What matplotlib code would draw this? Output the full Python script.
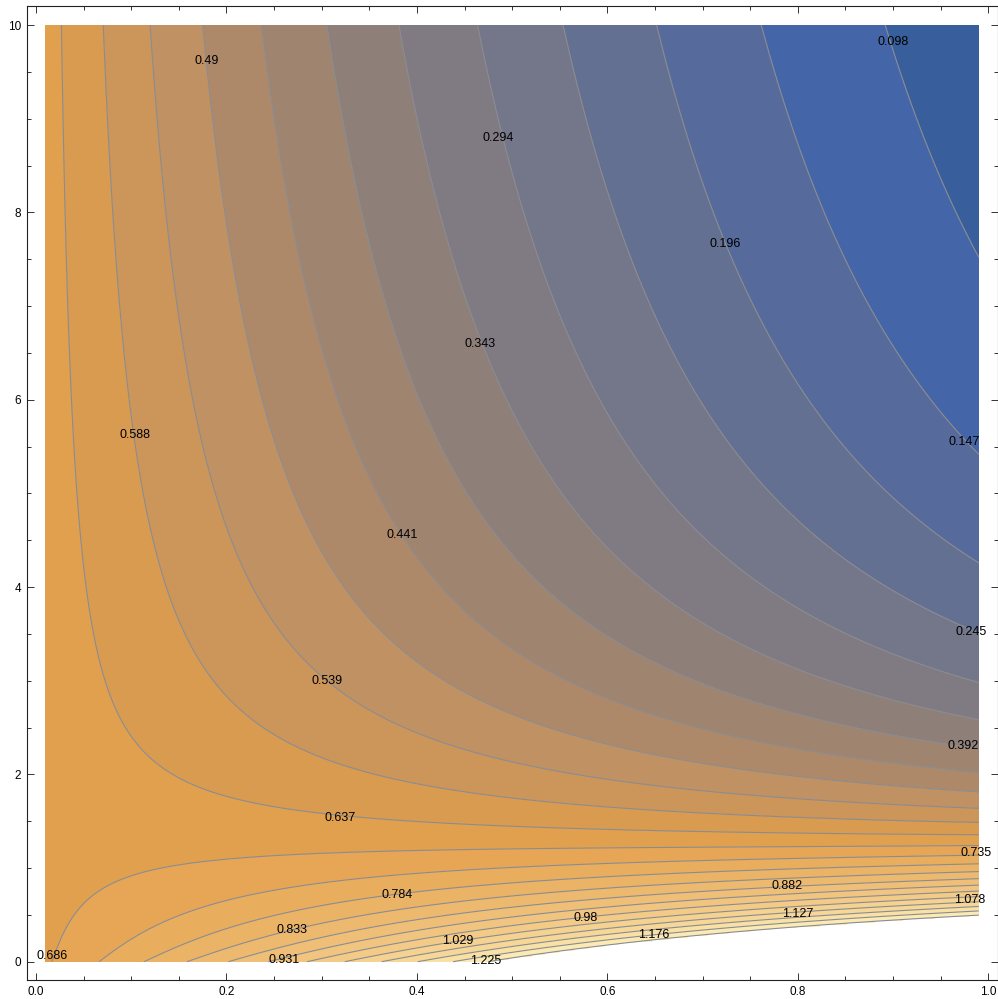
import numpy as np
import matplotlib
matplotlib.use("Agg")
import matplotlib.pyplot as plt
from matplotlib.colors import LinearSegmentedColormap, Normalize

plt.rcParams['font.family'] = ['Liberation Sans', 'DejaVu Sans']

# contour levels: multiples of 0.049
levels = np.round(0.049 * np.arange(2, 26), 3)
cap = 1.236  # values above this are left blank

# where the contours cross the top edge (y = 10)
top_levels = [0.637, 0.588, 0.539, 0.49, 0.441, 0.392, 0.343, 0.294, 0.245, 0.196, 0.147, 0.098]
top_x = [0.026, 0.072, 0.123, 0.177, 0.237, 0.303, 0.377, 0.459, 0.550, 0.651, 0.765, 0.896]

# where the contours cross the right edge (x = 0.99)
right_levels = [0.098, 0.147, 0.196, 0.245, 0.294, 0.343, 0.392, 0.441, 0.49, 0.539, 0.588, 0.637,
                0.686, 0.735, 0.784, 0.833, 0.882, 0.931, 0.98, 1.029, 1.078, 1.127, 1.176]
right_y = [7.42, 5.37, 4.25, 3.53, 2.99, 2.59, 2.30, 2.02, 1.815, 1.64, 1.485, 1.36,
           1.237, 1.117, 1.035, 0.957, 0.886, 0.822, 0.758, 0.697, 0.633, 0.573, 0.520]

# where the contours cross the bottom edge (y = 0)
bottom_levels = [0.686, 0.735, 0.784, 0.833, 0.882, 0.931, 1.225]
bottom_x = [0.025, 0.069, 0.116, 0.163, 0.207, 0.25, 0.47]

# points along the interior of the contour lines
trace_levels = ([0.637] * 14 + [0.588] * 9 + [0.539] * 5 + [0.49] * 4 + [0.441] * 2 + [0.392]
                + [0.686] * 11 + [0.735] * 8 + [0.784] * 7 + [0.833] * 5)
trace_x = [0.034, 0.037, 0.046, 0.064, 0.085, 0.113, 0.134, 0.158, 0.186, 0.225, 0.277, 0.319, 0.364, 0.455,
           0.092, 0.102, 0.116, 0.137, 0.174, 0.301, 0.347, 0.399, 0.455,
           0.155, 0.172, 0.200, 0.242, 0.287,
           0.223, 0.238, 0.277, 0.312,
           0.291, 0.312,
           0.312,
           0.036, 0.050, 0.067, 0.085, 0.109, 0.141, 0.176, 0.225, 0.295, 0.364, 0.455,
           0.092, 0.116, 0.151, 0.186, 0.225, 0.295, 0.364, 0.455,
           0.141, 0.169, 0.197, 0.225, 0.295, 0.361, 0.455,
           0.190, 0.225, 0.259, 0.329, 0.455]
trace_y = [6.71, 5.29, 4.22, 3.16, 2.53, 2.15, 2.01, 1.87, 1.76, 1.67, 1.60, 1.55, 1.51, 1.46,
           6.71, 5.82, 4.93, 4.04, 3.16, 2.15, 2.01, 1.905, 1.83,
           6.71, 5.64, 4.755, 3.94, 3.16,
           6.71, 6.0, 5.11, 4.505,
           6.71, 6.43,
           9.555,
           0.303, 0.552, 0.730, 0.854, 0.944, 1.014, 1.068, 1.093, 1.121, 1.147, 1.174,
           0.232, 0.41, 0.552, 0.641, 0.712, 0.837, 0.926, 0.979,
           0.160, 0.303, 0.392, 0.463, 0.587, 0.701, 0.784,
           0.125, 0.232, 0.331, 0.445, 0.605]

# contour labels and where they sit
label_values = [0.49, 0.294, 0.098, 0.196, 0.343, 0.588, 0.147, 0.441, 0.245, 0.539, 0.392, 0.637,
                0.735, 0.784, 0.882, 0.833, 0.98, 1.078, 0.686, 0.931, 1.029, 1.127, 1.176, 1.225]
label_x = [0.179, 0.485, 0.900, 0.724, 0.466, 0.104, 0.975, 0.385, 0.982, 0.306, 0.973, 0.319,
           0.987, 0.379, 0.789, 0.2685, 0.577, 0.980, 0.0168, 0.261, 0.443, 0.800, 0.649, 0.472]
label_y = [9.615, 8.79, 9.82, 7.66, 6.59, 5.62, 5.55, 4.555, 3.52, 3.0, 2.30, 1.534,
           1.16, 0.713, 0.81, 0.339, 0.467, 0.66, 0.061, 0.018, 0.221, 0.51, 0.285, 0.0075]

# colour ramp (value -> colour)
ramp_values = [0.07, 0.12, 0.17, 0.22, 0.27, 0.32, 0.37, 0.42, 0.47, 0.51, 0.56, 0.61,
               0.66, 0.71, 0.80, 0.95, 1.10, 1.23]
ramp_colors = ['#385F9B', '#4466A8', '#566B9C', '#647091', '#747689', '#817A82', '#8F7F78',
               '#A0846E', '#AE8A6A', '#BE9063', '#CC955A', '#D99B50', '#E1A04E', '#E6A655',
               '#EBB264', '#F1C47E', '#F6D796', '#FDEFBC']


def design(x, y):
    cols = [np.ones_like(x), np.log1p(x), x, x ** 2]
    for b in (0.25, 0.8, 2.5):
        L = np.log1p(y / b)
        cols += [x * L, x ** 2 * L, x ** 3 * L]
    return np.stack(cols, axis=-1)


# collect every read point and fit a smooth log-surface through them
px = np.concatenate([top_x, np.full(len(right_y), 0.99), bottom_x, trace_x, label_x])
py = np.concatenate([np.full(len(top_x), 10.0), right_y, np.zeros(len(bottom_x)), trace_y, label_y])
pv = np.concatenate([top_levels, right_levels, bottom_levels, trace_levels, label_values])
coef, *_ = np.linalg.lstsq(design(px, py), np.log(pv), rcond=None)

gx = np.linspace(0.01, 0.99, 500)
gy = np.linspace(0.0, 10.0, 500)
X, Y = np.meshgrid(gx, gy)
Z = np.exp(design(X, Y) @ coef)
Z_fill = np.ma.masked_greater(Z, cap)

lo, hi = ramp_values[0], ramp_values[-1]
cmap = LinearSegmentedColormap.from_list(
    'ramp', [((v - lo) / (hi - lo), c) for v, c in zip(ramp_values, ramp_colors)])

fig = plt.figure(figsize=(9.98, 9.99), dpi=100)
ax = fig.add_axes([0.0268, 0.0186, 0.9727, 0.9751])

fill_levels = np.concatenate([[0.0], levels, [cap]])
ax.contourf(X, Y, Z_fill, levels=fill_levels, cmap=cmap, norm=Normalize(lo, hi))
ax.contour(X, Y, Z, levels=levels, colors='#8A8C92', linewidths=0.8)

for v, lx, ly in zip(label_values, label_x, label_y):
    ax.text(lx, ly, f'{v:g}', fontsize=9, ha='center', va='center', color='black')

ax.set_xlim(-0.0096, 1.0096)
ax.set_ylim(-0.2, 10.2)
ax.set_xticks(np.arange(0, 1.01, 0.2))
ax.set_xticklabels(['0.0', '0.2', '0.4', '0.6', '0.8', '1.0'])
ax.set_xticks(np.arange(0, 1.001, 0.05), minor=True)
ax.set_yticks(np.arange(0, 11, 2))
ax.set_yticks(np.arange(0, 10.01, 0.5), minor=True)
ax.tick_params(which='both', direction='in', top=True, right=True, width=0.7,
               color='#333333', labelsize=8.5, pad=4)
ax.tick_params(which='major', length=5)
ax.tick_params(which='minor', length=3)
for s in ax.spines.values():
    s.set_linewidth(0.8)
    s.set_color('#222222')

fig.savefig('out.png', dpi=100)
